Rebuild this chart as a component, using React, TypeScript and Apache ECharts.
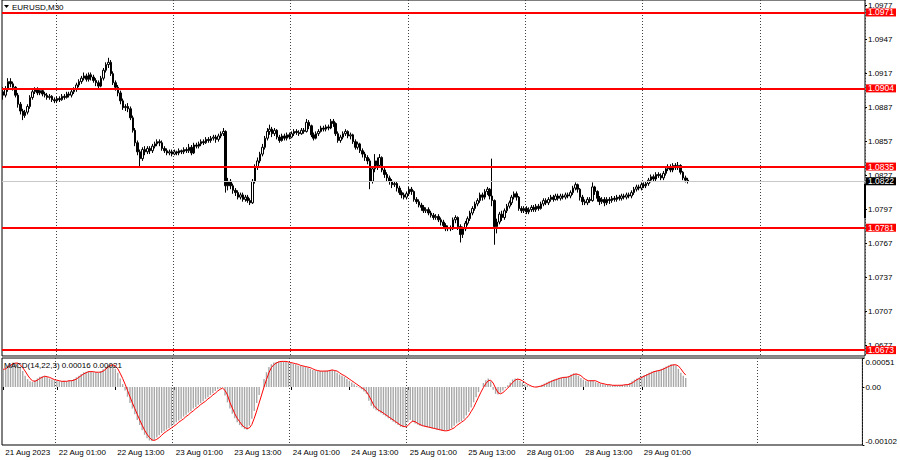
import React, { useEffect, useRef } from 'react';
import * as echarts from 'echarts';

// [open, close, low, high] for each M30 bar, 21 Aug 14:00 .. 29 Aug 10:00
const candles = [
  [1.0901,1.0898,1.0894,1.0905],[1.0898,1.0903,1.0896,1.0906],[1.0903,1.0910,1.0901,1.0913],[1.0910,1.0908,1.0905,1.0913],[1.0908,1.0905,1.0902,1.0910],
  [1.0905,1.0898,1.0896,1.0906],[1.0898,1.0890,1.0887,1.0900],[1.0890,1.0884,1.0881,1.0892],[1.0884,1.0880,1.0876,1.0886],[1.0880,1.0883,1.0878,1.0885],
  [1.0883,1.0888,1.0881,1.0890],[1.0888,1.0896,1.0886,1.0898],[1.0896,1.0901,1.0894,1.0903],[1.0901,1.0903,1.0899,1.0905],[1.0903,1.0900,1.0898,1.0905],
  [1.0900,1.0902,1.0898,1.0904],[1.0902,1.0899,1.0897,1.0904],[1.0899,1.0898,1.0896,1.0901],[1.0898,1.0896,1.0894,1.0900],[1.0896,1.0897,1.0894,1.0899],
  [1.0897,1.0894,1.0892,1.0898],[1.0894,1.0893,1.0891,1.0896],[1.0893,1.0895,1.0891,1.0897],[1.0895,1.0894,1.0892,1.0897],[1.0894,1.0897,1.0893,1.0899],
  [1.0897,1.0896,1.0894,1.0899],[1.0896,1.0899,1.0895,1.0901],[1.0899,1.0898,1.0896,1.0901],[1.0898,1.0901,1.0896,1.0903],[1.0901,1.0903,1.0899,1.0905],
  [1.0903,1.0907,1.0901,1.0909],[1.0907,1.0910,1.0905,1.0912],[1.0910,1.0913,1.0908,1.0915],[1.0913,1.0915,1.0911,1.0918],[1.0915,1.0912,1.0910,1.0917],
  [1.0912,1.0916,1.0910,1.0918],[1.0916,1.0914,1.0911,1.0918],[1.0914,1.0911,1.0909,1.0916],[1.0911,1.0909,1.0906,1.0913],[1.0909,1.0906,1.0904,1.0911],
  [1.0906,1.0913,1.0905,1.0915],[1.0913,1.0920,1.0911,1.0922],[1.0920,1.0925,1.0918,1.0927],[1.0925,1.0927,1.0922,1.0931],[1.0927,1.0917,1.0915,1.0929],
  [1.0917,1.0909,1.0907,1.0919],[1.0909,1.0905,1.0902,1.0911],[1.0905,1.0900,1.0897,1.0907],[1.0900,1.0893,1.0890,1.0902],[1.0893,1.0887,1.0885,1.0895],
  [1.0887,1.0888,1.0884,1.0890],[1.0888,1.0886,1.0883,1.0891],[1.0886,1.0878,1.0876,1.0888],[1.0878,1.0867,1.0865,1.0880],[1.0867,1.0856,1.0853,1.0869],
  [1.0856,1.0848,1.0845,1.0858],[1.0848,1.0842,1.0834,1.0850],[1.0842,1.0850,1.0840,1.0852],[1.0850,1.0848,1.0845,1.0853],[1.0848,1.0851,1.0846,1.0853],
  [1.0851,1.0849,1.0846,1.0853],[1.0849,1.0853,1.0847,1.0855],[1.0853,1.0855,1.0851,1.0857],[1.0855,1.0857,1.0853,1.0859],[1.0857,1.0856,1.0853,1.0859],
  [1.0856,1.0851,1.0849,1.0858],[1.0851,1.0849,1.0847,1.0853],[1.0849,1.0847,1.0845,1.0851],[1.0847,1.0848,1.0845,1.0850],[1.0848,1.0846,1.0844,1.0850],
  [1.0846,1.0848,1.0845,1.0850],[1.0848,1.0847,1.0845,1.0849],[1.0847,1.0849,1.0845,1.0851],[1.0849,1.0848,1.0846,1.0850],[1.0848,1.0850,1.0846,1.0852],
  [1.0850,1.0849,1.0847,1.0852],[1.0849,1.0852,1.0847,1.0855],[1.0852,1.0847,1.0845,1.0854],[1.0847,1.0854,1.0846,1.0856],[1.0854,1.0853,1.0851,1.0856],
  [1.0853,1.0855,1.0851,1.0857],[1.0855,1.0857,1.0853,1.0859],[1.0857,1.0856,1.0854,1.0859],[1.0856,1.0859,1.0855,1.0861],[1.0859,1.0858,1.0856,1.0861],
  [1.0858,1.0860,1.0856,1.0862],[1.0860,1.0861,1.0858,1.0863],[1.0861,1.0859,1.0856,1.0863],[1.0859,1.0862,1.0857,1.0864],[1.0862,1.0864,1.0860,1.0866],
  [1.0864,1.0866,1.0862,1.0869],[1.0866,1.0818,1.0812,1.0867],[1.0818,1.0822,1.0814,1.0825],[1.0822,1.0818,1.0815,1.0824],[1.0818,1.0814,1.0811,1.0820],
  [1.0814,1.0812,1.0809,1.0816],[1.0812,1.0808,1.0806,1.0814],[1.0808,1.0810,1.0806,1.0812],[1.0810,1.0806,1.0804,1.0812],[1.0806,1.0808,1.0804,1.0810],
  [1.0808,1.0805,1.0803,1.0810],[1.0805,1.0803,1.0801,1.0807],[1.0803,1.0822,1.0802,1.0824],[1.0822,1.0835,1.0820,1.0837],[1.0835,1.0840,1.0832,1.0843],
  [1.0840,1.0846,1.0838,1.0848],[1.0846,1.0852,1.0844,1.0855],[1.0852,1.0860,1.0850,1.0862],[1.0860,1.0866,1.0858,1.0869],[1.0866,1.0868,1.0863,1.0872],
  [1.0868,1.0864,1.0861,1.0870],[1.0864,1.0867,1.0862,1.0869],[1.0867,1.0861,1.0859,1.0868],[1.0861,1.0858,1.0856,1.0863],[1.0858,1.0862,1.0857,1.0864],
  [1.0862,1.0860,1.0858,1.0864],[1.0860,1.0863,1.0858,1.0865],[1.0863,1.0861,1.0859,1.0865],[1.0861,1.0864,1.0860,1.0866],[1.0864,1.0866,1.0862,1.0868],
  [1.0866,1.0865,1.0863,1.0868],[1.0865,1.0864,1.0862,1.0867],[1.0864,1.0867,1.0863,1.0869],[1.0867,1.0866,1.0864,1.0869],[1.0866,1.0874,1.0865,1.0877],
  [1.0874,1.0871,1.0868,1.0876],[1.0871,1.0863,1.0861,1.0872],[1.0863,1.0860,1.0858,1.0865],[1.0860,1.0864,1.0859,1.0866],[1.0864,1.0866,1.0862,1.0868],
  [1.0866,1.0869,1.0865,1.0871],[1.0869,1.0868,1.0866,1.0871],[1.0868,1.0870,1.0866,1.0872],[1.0870,1.0869,1.0867,1.0872],[1.0869,1.0875,1.0868,1.0877],
  [1.0875,1.0873,1.0870,1.0877],[1.0873,1.0864,1.0862,1.0874],[1.0864,1.0858,1.0856,1.0866],[1.0858,1.0861,1.0856,1.0863],[1.0861,1.0864,1.0859,1.0866],
  [1.0864,1.0866,1.0862,1.0868],[1.0866,1.0862,1.0860,1.0867],[1.0862,1.0863,1.0859,1.0865],[1.0863,1.0857,1.0855,1.0864],[1.0857,1.0852,1.0850,1.0859],
  [1.0852,1.0855,1.0850,1.0857],[1.0855,1.0849,1.0847,1.0856],[1.0849,1.0846,1.0843,1.0851],[1.0846,1.0843,1.0840,1.0848],[1.0843,1.0840,1.0837,1.0845],
  [1.0840,1.0822,1.0815,1.0842],[1.0822,1.0833,1.0820,1.0835],[1.0833,1.0840,1.0830,1.0846],[1.0840,1.0836,1.0832,1.0843],[1.0836,1.0843,1.0834,1.0846],
  [1.0843,1.0832,1.0830,1.0844],[1.0832,1.0828,1.0825,1.0834],[1.0828,1.0825,1.0822,1.0830],[1.0825,1.0822,1.0819,1.0827],[1.0822,1.0819,1.0816,1.0824],
  [1.0819,1.0820,1.0817,1.0822],[1.0820,1.0816,1.0813,1.0822],[1.0816,1.0812,1.0810,1.0818],[1.0812,1.0810,1.0807,1.0814],[1.0810,1.0808,1.0806,1.0812],
  [1.0808,1.0811,1.0806,1.0813],[1.0811,1.0815,1.0809,1.0817],[1.0815,1.0813,1.0810,1.0817],[1.0813,1.0806,1.0804,1.0814],[1.0806,1.0804,1.0802,1.0808],
  [1.0804,1.0801,1.0799,1.0806],[1.0801,1.0799,1.0796,1.0803],[1.0799,1.0796,1.0794,1.0801],[1.0796,1.0797,1.0794,1.0799],[1.0797,1.0794,1.0792,1.0799],
  [1.0794,1.0792,1.0790,1.0796],[1.0792,1.0790,1.0788,1.0794],[1.0790,1.0791,1.0788,1.0793],[1.0791,1.0788,1.0786,1.0793],[1.0788,1.0786,1.0783,1.0790],
  [1.0786,1.0783,1.0781,1.0788],[1.0783,1.0780,1.0778,1.0785],[1.0780,1.0781,1.0778,1.0783],[1.0781,1.0780,1.0778,1.0783],[1.0780,1.0788,1.0779,1.0790],
  [1.0788,1.0790,1.0785,1.0792],[1.0790,1.0782,1.0779,1.0791],[1.0782,1.0775,1.0768,1.0784],[1.0775,1.0780,1.0772,1.0782],[1.0780,1.0785,1.0778,1.0787],
  [1.0785,1.0789,1.0783,1.0791],[1.0789,1.0794,1.0787,1.0796],[1.0794,1.0798,1.0792,1.0800],[1.0798,1.0802,1.0796,1.0804],[1.0802,1.0805,1.0800,1.0807],
  [1.0805,1.0810,1.0803,1.0812],[1.0810,1.0808,1.0805,1.0812],[1.0808,1.0813,1.0806,1.0815],[1.0813,1.0815,1.0810,1.0817],[1.0815,1.0809,1.0806,1.0816],
  [1.0809,1.0805,1.0800,1.0842],[1.0805,1.0782,1.0766,1.0806],[1.0782,1.0786,1.0776,1.0789],[1.0786,1.0793,1.0784,1.0795],[1.0793,1.0790,1.0787,1.0796],
  [1.0790,1.0796,1.0788,1.0798],[1.0796,1.0800,1.0794,1.0802],[1.0800,1.0803,1.0798,1.0805],[1.0803,1.0808,1.0801,1.0810],[1.0808,1.0811,1.0806,1.0813],
  [1.0811,1.0808,1.0805,1.0813],[1.0808,1.0798,1.0796,1.0809],[1.0798,1.0796,1.0794,1.0800],[1.0796,1.0798,1.0794,1.0800],[1.0798,1.0795,1.0793,1.0800],
  [1.0795,1.0797,1.0793,1.0799],[1.0797,1.0799,1.0795,1.0801],[1.0799,1.0797,1.0795,1.0801],[1.0797,1.0800,1.0795,1.0802],[1.0800,1.0798,1.0796,1.0802],
  [1.0798,1.0802,1.0797,1.0804],[1.0802,1.0805,1.0800,1.0807],[1.0805,1.0803,1.0801,1.0807],[1.0803,1.0806,1.0801,1.0808],[1.0806,1.0808,1.0804,1.0810],
  [1.0808,1.0806,1.0804,1.0810],[1.0806,1.0809,1.0805,1.0811],[1.0809,1.0807,1.0805,1.0811],[1.0807,1.0809,1.0805,1.0811],[1.0809,1.0808,1.0806,1.0811],
  [1.0808,1.0810,1.0806,1.0812],[1.0810,1.0809,1.0807,1.0812],[1.0809,1.0812,1.0807,1.0814],[1.0812,1.0816,1.0810,1.0818],[1.0816,1.0819,1.0814,1.0821],
  [1.0819,1.0815,1.0812,1.0820],[1.0815,1.0808,1.0805,1.0816],[1.0808,1.0804,1.0801,1.0810],[1.0804,1.0803,1.0801,1.0806],[1.0803,1.0806,1.0801,1.0808],
  [1.0806,1.0805,1.0803,1.0808],[1.0805,1.0817,1.0804,1.0821],[1.0817,1.0813,1.0810,1.0818],[1.0813,1.0807,1.0804,1.0814],[1.0807,1.0804,1.0801,1.0809],
  [1.0804,1.0806,1.0802,1.0808],[1.0806,1.0803,1.0800,1.0808],[1.0803,1.0806,1.0801,1.0808],[1.0806,1.0805,1.0802,1.0808],[1.0805,1.0807,1.0803,1.0809],
  [1.0807,1.0806,1.0804,1.0809],[1.0806,1.0808,1.0804,1.0810],[1.0808,1.0807,1.0805,1.0810],[1.0807,1.0809,1.0805,1.0811],[1.0809,1.0808,1.0806,1.0811],
  [1.0808,1.0810,1.0806,1.0812],[1.0810,1.0809,1.0807,1.0812],[1.0809,1.0812,1.0807,1.0814],[1.0812,1.0815,1.0810,1.0817],[1.0815,1.0817,1.0813,1.0819],
  [1.0817,1.0816,1.0814,1.0819],[1.0816,1.0819,1.0814,1.0821],[1.0819,1.0818,1.0816,1.0821],[1.0818,1.0820,1.0816,1.0822],[1.0820,1.0823,1.0818,1.0825],
  [1.0823,1.0826,1.0821,1.0828],[1.0826,1.0824,1.0822,1.0828],[1.0824,1.0828,1.0822,1.0830],[1.0828,1.0827,1.0825,1.0830],[1.0827,1.0825,1.0823,1.0829],
  [1.0825,1.0829,1.0823,1.0831],[1.0829,1.0833,1.0827,1.0835],[1.0833,1.0835,1.0831,1.0837],[1.0835,1.0832,1.0830,1.0837],[1.0832,1.0836,1.0830,1.0838],
  [1.0836,1.0834,1.0832,1.0838],[1.0834,1.0836,1.0832,1.0839],[1.0836,1.0830,1.0828,1.0837],[1.0830,1.0825,1.0823,1.0831],[1.0825,1.0823,1.0821,1.0827],
  [1.0823,1.0822,1.0820,1.0825],
];

const macdMain = [
  0.00032,0.00034,0.00038,0.00041,0.00043,0.00042,0.00040,0.00035,0.00028,0.00020,
  0.00014,0.00010,0.00009,0.00012,0.00015,0.00018,0.00019,0.00019,0.00017,0.00015,
  0.00013,0.00012,0.00011,0.00010,0.00010,0.00011,0.00010,0.00011,0.00012,0.00014,
  0.00017,0.00020,0.00023,0.00026,0.00027,0.00028,0.00027,0.00026,0.00026,0.00025,
  0.00028,0.00031,0.00035,0.00038,0.00040,0.00038,0.00032,0.00025,0.00015,0.00005,
  -0.00006,-0.00017,-0.00028,-0.00038,-0.00048,-0.00058,-0.00067,-0.00076,-0.00084,-0.00090,
  -0.00094,-0.00095,-0.00093,-0.00089,-0.00085,-0.00081,-0.00078,-0.00075,-0.00072,-0.00069,
  -0.00066,-0.00062,-0.00059,-0.00056,-0.00052,-0.00049,-0.00045,-0.00042,-0.00038,-0.00035,
  -0.00031,-0.00028,-0.00025,-0.00021,-0.00018,-0.00014,-0.00011,-0.00007,-0.00004,-0.00002,
  -0.00001,-0.00015,-0.00027,-0.00038,-0.00047,-0.00055,-0.00062,-0.00067,-0.00071,-0.00074,
  -0.00075,-0.00068,-0.00056,-0.00042,-0.00028,-0.00014,0.00000,0.00014,0.00026,0.00035,
  0.00040,0.00043,0.00044,0.00045,0.00045,0.00045,0.00044,0.00043,0.00042,0.00041,
  0.00040,0.00038,0.00037,0.00036,0.00036,0.00034,0.00032,0.00030,0.00029,0.00028,
  0.00028,0.00028,0.00028,0.00029,0.00030,0.00030,0.00028,0.00025,0.00022,0.00020,
  0.00018,0.00014,0.00011,0.00008,0.00005,0.00002,-0.00001,-0.00004,-0.00008,-0.00012,
  -0.00024,-0.00033,-0.00038,-0.00041,-0.00043,-0.00046,-0.00049,-0.00052,-0.00055,-0.00058,
  -0.00061,-0.00064,-0.00067,-0.00070,-0.00071,-0.00070,-0.00062,-0.00058,-0.00061,-0.00064,
  -0.00066,-0.00068,-0.00069,-0.00070,-0.00071,-0.00072,-0.00073,-0.00074,-0.00075,-0.00076,
  -0.00077,-0.00077,-0.00076,-0.00075,-0.00072,-0.00068,-0.00064,-0.00062,-0.00060,-0.00056,
  -0.00050,-0.00044,-0.00036,-0.00027,-0.00018,-0.00009,0.00000,0.00007,0.00012,0.00015,
  0.00010,-0.00005,-0.00012,-0.00013,-0.00010,-0.00006,-0.00002,0.00003,0.00008,0.00013,
  0.00015,0.00014,0.00011,0.00008,0.00005,0.00003,0.00001,0.00000,0.00000,0.00001,
  0.00002,0.00004,0.00006,0.00008,0.00010,0.00012,0.00013,0.00015,0.00016,0.00017,
  0.00017,0.00018,0.00019,0.00022,0.00024,0.00023,0.00020,0.00016,0.00013,0.00011,
  0.00010,0.00012,0.00011,0.00009,0.00007,0.00006,0.00005,0.00004,0.00004,0.00003,
  0.00003,0.00003,0.00003,0.00003,0.00004,0.00004,0.00005,0.00007,0.00010,0.00013,
  0.00015,0.00017,0.00019,0.00021,0.00023,0.00025,0.00027,0.00028,0.00029,0.00030,
  0.00032,0.00034,0.00036,0.00038,0.00040,0.00040,0.00038,0.00032,0.00025,0.00020,0.00016,
];

const macdSignal = [
  0.00031,0.00032,0.00035,0.00038,0.00041,0.00042,0.00042,0.00039,0.00034,0.00028,
  0.00021,0.00015,0.00011,0.00010,0.00012,0.00015,0.00017,0.00019,0.00018,0.00017,
  0.00015,0.00013,0.00012,0.00011,0.00010,0.00010,0.00010,0.00011,0.00011,0.00012,
  0.00014,0.00017,0.00020,0.00023,0.00025,0.00027,0.00027,0.00027,0.00026,0.00026,
  0.00026,0.00028,0.00031,0.00035,0.00038,0.00039,0.00037,0.00032,0.00024,0.00015,
  0.00005,-0.00006,-0.00017,-0.00028,-0.00038,-0.00048,-0.00058,-0.00067,-0.00076,-0.00083,
  -0.00089,-0.00093,-0.00094,-0.00092,-0.00089,-0.00085,-0.00081,-0.00078,-0.00075,-0.00072,
  -0.00069,-0.00066,-0.00062,-0.00059,-0.00056,-0.00052,-0.00049,-0.00045,-0.00042,-0.00038,
  -0.00035,-0.00031,-0.00028,-0.00025,-0.00021,-0.00018,-0.00014,-0.00011,-0.00007,-0.00004,
  -0.00002,-0.00006,-0.00014,-0.00027,-0.00037,-0.00047,-0.00055,-0.00061,-0.00067,-0.00071,
  -0.00073,-0.00072,-0.00066,-0.00055,-0.00042,-0.00028,-0.00014,0.00000,0.00013,0.00025,
  0.00034,0.00039,0.00042,0.00044,0.00045,0.00045,0.00045,0.00044,0.00043,0.00042,
  0.00041,0.00040,0.00038,0.00037,0.00036,0.00035,0.00034,0.00032,0.00030,0.00029,
  0.00028,0.00028,0.00028,0.00028,0.00029,0.00030,0.00029,0.00028,0.00025,0.00022,
  0.00020,0.00017,0.00014,0.00011,0.00008,0.00005,0.00002,-0.00001,-0.00004,-0.00008,
  -0.00015,-0.00023,-0.00032,-0.00037,-0.00041,-0.00043,-0.00046,-0.00049,-0.00052,-0.00055,
  -0.00058,-0.00061,-0.00064,-0.00067,-0.00069,-0.00070,-0.00068,-0.00063,-0.00060,-0.00061,
  -0.00064,-0.00066,-0.00068,-0.00069,-0.00070,-0.00071,-0.00072,-0.00073,-0.00074,-0.00075,
  -0.00076,-0.00077,-0.00077,-0.00076,-0.00074,-0.00072,-0.00068,-0.00065,-0.00062,-0.00059,
  -0.00055,-0.00050,-0.00043,-0.00036,-0.00027,-0.00018,-0.00009,-0.00001,0.00006,0.00011,
  0.00012,0.00007,-0.00002,-0.00010,-0.00012,-0.00010,-0.00006,-0.00002,0.00003,0.00008,
  0.00012,0.00014,0.00013,0.00011,0.00008,0.00005,0.00003,0.00001,0.00000,0.00000,
  0.00001,0.00002,0.00004,0.00006,0.00008,0.00010,0.00012,0.00013,0.00015,0.00016,
  0.00017,0.00017,0.00018,0.00020,0.00022,0.00023,0.00022,0.00020,0.00016,0.00013,
  0.00011,0.00011,0.00011,0.00011,0.00009,0.00007,0.00006,0.00005,0.00004,0.00004,
  0.00003,0.00003,0.00003,0.00003,0.00003,0.00004,0.00004,0.00005,0.00007,0.00010,
  0.00013,0.00015,0.00017,0.00019,0.00021,0.00023,0.00025,0.00027,0.00028,0.00029,
  0.00030,0.00032,0.00034,0.00036,0.00038,0.00039,0.00039,0.00037,0.00032,0.00026,0.00021,
];

const levels = [1.0971, 1.0904, 1.0835, 1.0781, 1.0673];
const priceTicks = [1.0977, 1.0947, 1.0917, 1.0887, 1.0857, 1.0827, 1.0797, 1.0767, 1.0737, 1.0707, 1.0677];
const macdTicks = [-0.00102, 0, 0.00051];
const timeLabels = ['21 Aug 2023', '22 Aug 01:00', '22 Aug 13:00', '23 Aug 01:00', '23 Aug 13:00', '24 Aug 01:00', '24 Aug 13:00', '25 Aug 01:00', '25 Aug 13:00', '28 Aug 01:00', '28 Aug 13:00', '29 Aug 01:00'];
const timeLabelBars = [0, 22, 46, 70, 94, 118, 142, 166, 190, 214, 238, 262];
const dayGridBars = [22, 70, 118, 166, 214, 262, 310];
const totalBars = 353;
const symbolTitle = 'EURUSD,M30';
const macdTitle = 'MACD(14,22,3)';

export default function App() {
  const ref = useRef<HTMLDivElement>(null);
  useEffect(() => {
    document.body.style.margin = '0';
    const chart = echarts.init(ref.current as HTMLDivElement, null, { renderer: 'svg' });
    const font = "'Liberation Sans', Arial, sans-serif";
    const cats = Array.from({ length: totalBars }, (_, i) => String(i));
    const labelMap: Record<string, string> = {};
    timeLabelBars.forEach((b, k) => { labelMap[String(b)] = timeLabels[k]; });
    const labelSet = new Set(timeLabelBars);
    const gridSet = new Set(dayGridBars);
    const lastClose = candles[candles.length - 1][1];
    const lastMacd = macdMain[macdMain.length - 1];
    const lastSignal = macdSignal[macdSignal.length - 1];
    const dotted = { color: '#404040', width: 1, type: [1, 2] as any };

    const option: any = {
      animation: false,
      backgroundColor: '#ffffff',
      grid: [
        { left: 2, right: 35, top: 0, height: 356, show: true, borderColor: '#000', borderWidth: 1, backgroundColor: '#fff' },
        { left: 2, right: 35, top: 358, height: 87, show: true, borderColor: '#000', borderWidth: 1, backgroundColor: '#fff' },
      ],
      xAxis: [
        {
          type: 'category', gridIndex: 0, data: cats, boundaryGap: true,
          axisLine: { show: false }, axisTick: { show: false }, axisLabel: { show: false },
          splitLine: { show: true, interval: (i: number) => gridSet.has(i), lineStyle: dotted },
        },
        {
          type: 'category', gridIndex: 1, data: cats, boundaryGap: true,
          axisLine: { show: false },
          axisTick: { show: true, interval: (i: number) => labelSet.has(i), alignWithLabel: true, length: 3, lineStyle: { color: '#000' } },
          axisLabel: {
            show: true, interval: (i: number) => labelSet.has(i), formatter: (v: string) => labelMap[v] || '',
            align: 'left', margin: 3, padding: [0, 0, 0, 2], fontSize: 8, color: '#000', fontFamily: font,
          },
          splitLine: { show: true, interval: (i: number) => gridSet.has(i), lineStyle: dotted },
        },
      ],
      yAxis: [
        {
          type: 'value', gridIndex: 0, position: 'right', min: 1.06678, max: 1.0982, scale: true,
          splitLine: { show: false }, axisLine: { show: false },
          axisTick: { show: true, length: 2, lineStyle: { color: '#000' }, customValues: priceTicks },
          axisLabel: { customValues: priceTicks, formatter: (v: number) => v.toFixed(4), fontSize: 8, color: '#000', margin: 3, fontFamily: font },
        },
        {
          type: 'value', gridIndex: 1, position: 'right', min: -0.00102, max: 0.00051,
          splitLine: { show: false }, axisLine: { show: false },
          axisTick: { show: true, length: 2, lineStyle: { color: '#000' }, customValues: macdTicks },
          axisLabel: {
            customValues: macdTicks, formatter: (v: number) => (v === 0 ? '0.00' : v.toFixed(5)),
            fontSize: 8, color: '#000', margin: 3, fontFamily: font,
            verticalAlignMinLabel: 'bottom', verticalAlignMaxLabel: 'top',
          },
        },
      ],
      series: [
        {
          type: 'candlestick', xAxisIndex: 0, yAxisIndex: 0, data: candles, barWidth: 2,
          itemStyle: { color: '#ffffff', color0: '#000000', borderColor: '#000000', borderColor0: '#000000', borderWidth: 1 },
          silent: true,
          markLine: {
            silent: true, symbol: ['none', 'none'], animation: false, precision: 5,
            lineStyle: { color: '#ff0000', width: 2, type: 'solid' },
            label: {
              show: true, position: 'end', distance: 1, formatter: (p: any) => Number(p.value).toFixed(4),
              color: '#fff', backgroundColor: '#ff0000', fontSize: 8.5, lineHeight: 8, padding: [0, 2, 0, 2], fontFamily: font,
            },
            data: [
              { yAxis: lastClose, lineStyle: { color: '#c8c8c8', width: 1, type: 'solid' }, label: { backgroundColor: '#000000', color: '#fff' } },
              ...levels.map((v) => ({ yAxis: v })),
            ],
          },
        },
        {
          type: 'bar', xAxisIndex: 1, yAxisIndex: 1, data: macdMain, barWidth: 1.4,
          itemStyle: { color: '#a8a8a8' }, silent: true,
        },
        {
          type: 'line', xAxisIndex: 1, yAxisIndex: 1, data: macdSignal, showSymbol: false, symbol: 'none',
          lineStyle: { color: '#ff0000', width: 1 }, silent: true,
        },
      ],
      graphic: [
        { type: 'rect', shape: { x: 2, y: 356, width: 863, height: 2 }, style: { fill: '#8c8c8c' }, silent: true, z: 10 },
        { type: 'polygon', shape: { points: [[4, 5], [9, 5], [6.5, 8]] }, style: { fill: '#000' }, silent: true, z: 10 },
        { type: 'text', x: 12, y: 7, style: { text: symbolTitle, fill: '#000', font: `8px ${font}`, verticalAlign: 'middle' }, silent: true, z: 10 },
        {
          type: 'text', x: 4, y: 365,
          style: { text: `${macdTitle} ${lastMacd.toFixed(5)} ${lastSignal.toFixed(5)}`, fill: '#000', font: `8px ${font}`, verticalAlign: 'middle' },
          silent: true, z: 10,
        },
        { type: 'rect', shape: { x: 864, y: 184, width: 2, height: 34 }, style: { fill: '#000' }, silent: true, z: 10 },
      ],
    };
    chart.setOption(option);
    return () => chart.dispose();
  }, []);
  return <div ref={ref} style={{ position: 'fixed', left: 0, top: 0, width: 900, height: 460, background: '#fff' }} />;
}
